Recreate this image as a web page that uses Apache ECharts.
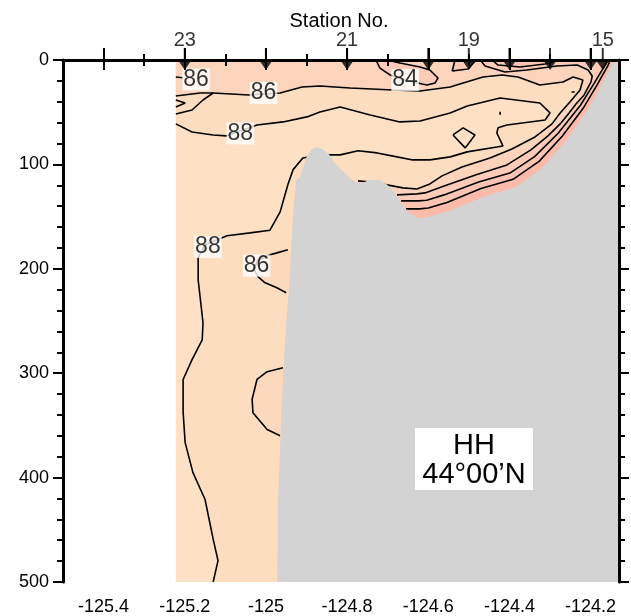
<!DOCTYPE html>
<html><head><meta charset="utf-8">
<script src="https://cdn.jsdelivr.net/npm/echarts@6/dist/echarts.min.js"></script>
<style>html,body{margin:0;padding:0;background:#fff}#c{width:631px;height:616px}</style>
</head><body><div id="c"></div>
<script>
// ---------------- data ----------------
const lonRange = [-125.5, -124.13];
const depthRange = [0, 500];
const majorLon = [-125.4, -125.2, -125, -124.8, -124.6, -124.4, -124.2];
const minorLon = [-125.3, -125.1, -124.9, -124.7, -124.5, -124.3];
const stationLon = [-125.2, -125.0, -124.8, -124.6, -124.5, -124.4, -124.3, -124.2, -124.17];
const stationNo  = [23, 22, 21, 20, 19, 18, 17, 16, 15];
const stationShown = [23, 21, 19, 15];
const dataWestLon = -125.222;

const bathymetry = [[-124.972,500],[-124.970,421],[-124.962,338],[-124.954,275],[-124.942,211],[-124.933,147],[-124.925,115],[-124.916,112],[-124.900,92.6],[-124.888,86],[-124.876,83.6],[-124.860,85.6],[-124.843,91],[-124.827,100.6],[-124.806,108.5],[-124.782,116.5],[-124.765,118],[-124.745,115],[-124.720,115],[-124.700,119.7],[-124.683,127.7],[-124.667,137],[-124.646,146.8],[-124.622,151.6],[-124.597,150],[-124.548,144.6],[-124.464,131],[-124.383,121.6],[-124.317,102.5],[-124.260,77],[-124.208,48],[-124.176,26],[-124.152,7],[-124.140,0],[-124.13,0]];

const c88 = [[-125.222,61.2],[-125.182,68.9],[-125.130,71.8],[-125.098,72.7],[-125.022,62.2],[-124.958,59.3],[-124.899,54.5],[-124.867,49.8],[-124.817,45],[-124.743,52.6],[-124.670,59.3],[-124.620,58.4],[-124.546,50.7],[-124.504,44],[-124.423,36.4],[-124.325,41.2],[-124.300,50.7],[-124.312,57.4],[-124.406,62.2],[-124.428,65],[-124.431,69.9],[-124.416,82.3],[-124.431,83.3],[-124.504,88],[-124.546,92.8],[-124.596,95.7],[-124.638,95.7],[-124.677,92.8],[-124.726,89],[-124.773,87],[-124.817,90.9],[-124.867,90.9],[-124.909,93.8],[-124.933,105],[-124.946,119.6],[-124.953,129],[-124.965,145.5],[-124.990,163],[-125.039,165.6],[-125.096,168.4],[-125.150,177],[-125.167,189.5],[-125.167,210.5],[-125.155,251.7],[-125.157,268],[-125.182,287],[-125.204,306],[-125.204,337.8],[-125.199,366.5],[-125.180,395],[-125.150,421],[-125.130,459],[-125.118,479.5],[-125.130,500]];
const c88Ring = [[-124.539,71.8],[-124.514,65],[-124.485,71.8],[-124.509,84.2],[-124.539,71.8]];
const spotA = [[-124.247,30.6],[-124.243,28.8],[-124.239,30.6],[-124.243,32.4],[-124.247,30.6]];
const spotB = [[-124.423,49.5],[-124.423,52.5]];
const c86Main = [[-125.222,34.5],[-125.162,31.6],[-125.130,31.6],[-125.042,33.5],[-124.965,31.6],[-124.911,25.8],[-124.867,24.9],[-124.793,26.8],[-124.687,28.7],[-124.620,29.7],[-124.546,25.8],[-124.514,22],[-124.465,16.3],[-124.418,14.4],[-124.379,16.3],[-124.325,23.9],[-124.268,21],[-124.243,16.3],[-124.219,19.1],[-124.226,28.7],[-124.251,40.2],[-124.275,50.7],[-124.295,61.2],[-124.337,73.7],[-124.394,85.2],[-124.448,93.8],[-124.517,102.4],[-124.566,111],[-124.596,118.7],[-124.628,123.5],[-124.662,122.5],[-124.702,119.6],[-124.743,116.8],[-124.773,115.8]];
const c86West1 = [[-125.222,16.3],[-125.205,17]];
const c86West2 = [[-125.222,38.3],[-125.199,41.2],[-125.222,45]];
const c86West3 = [[-125.222,51.7],[-125.182,47.9],[-125.155,38.3],[-125.130,31.6]];
const c86Lobe1 = [[-124.946,181.8],[-124.975,185],[-124.990,186.6],[-125.02,192],[-125.03,200],[-125.019,207.7],[-125.002,213.4],[-124.973,218.2],[-124.950,223]];
const c86Lobe2 = [[-124.958,294.8],[-124.997,298.6],[-125.022,306],[-125.034,325],[-125.032,337.8],[-124.997,354],[-124.965,360]];
const c84Lobe = [[-124.729,0],[-124.719,7.7],[-124.694,14.4],[-124.657,19.1],[-124.615,23],[-124.603,23.9],[-124.583,22],[-124.576,17.2],[-124.596,9.6],[-124.620,6.7],[-124.670,2.9],[-124.702,0]];
const c84Lobe19 = [[-124.534,0],[-124.541,10.5],[-124.502,8.6],[-124.482,0]];
const c84Slope = [[-124.472,0],[-124.460,5.7],[-124.411,11.5],[-124.357,9.6],[-124.283,5.7],[-124.233,4.8],[-124.206,9.6],[-124.196,15.3],[-124.199,21],[-124.216,33.5],[-124.236,42.1],[-124.253,50.7],[-124.275,61.2],[-124.305,72.7],[-124.347,86.1],[-124.406,100.5],[-124.482,110],[-124.566,121.5],[-124.608,127.3],[-124.628,128.2],[-124.677,129.2]];
const c82Lobe = [[-124.443,0],[-124.428,4.8],[-124.374,6.7],[-124.312,3.8],[-124.275,0]];
const c82Slope = [[-124.159,0],[-124.163,4.1],[-124.191,22.2],[-124.225,43.3],[-124.280,70.2],[-124.338,92.6],[-124.399,108.3],[-124.476,116.8],[-124.561,129.2],[-124.604,134.3],[-124.624,134.9],[-124.667,134.9]];
const c80Slope = [[-124.152,0],[-124.157,5.2],[-124.184,23.8],[-124.217,45.4],[-124.270,73.1],[-124.327,97.1],[-124.391,114.3],[-124.470,123],[-124.554,136.4],[-124.600,141.8],[-124.622,142.6],[-124.655,142.6]];

const labelText  = ['86', '86', '88', '84', '88', '86'];
const labelLon   = [-125.172, -125.006, -125.063, -124.657, -125.143, -125.023];
const labelDepth = [18.7, 31.6, 70.3, 19.1, 179, 197];

// ---------------- filled bands built from the contour arrays ----------------
const E = lonRange[1];
const fillPolys = [
  [[dataWestLon,0],[E,0],[E,500],[dataWestLon,500]],
  c88.concat([[dataWestLon,500]]),
  [[dataWestLon,0]].concat(c86Main, [[-124.76,160],[E,160],[E,0]]),
  c86Lobe1.concat([[-124.92,223],[-124.92,182]]),
  c86Lobe2.concat([[-124.94,360],[-124.94,295]]),
  c84Lobe,
  c84Lobe19,
  c84Slope.concat([[-124.69,160],[E,160],[E,0]]),
  c82Lobe,
  c82Slope.concat([[-124.675,160],[E,160],[E,0]]),
  c80Slope.concat([[-124.66,160],[E,160],[E,0]])
];
const fillColors = ['#FDDDC0','#FEE1C4','#FCD4BB','#FCD8BC','#FCD8BC','#FCCCB8','#FCCCB8','#FCCCB8','#FBC4B2','#FBC4B2','#FABBAA'];

const contours = [c88, c88Ring, spotA, spotB, c86Main, c86West1, c86West2, c86West3, c86Lobe1, c86Lobe2,
                  c84Lobe, c84Lobe19, c84Slope, c82Lobe, c82Slope, c80Slope];

// ---------------- chart ----------------
const FONT = 'Liberation Sans, Arial, Helvetica, sans-serif';
const chart = echarts.init(document.getElementById('c'), null, {renderer: 'canvas'});
const frame = {show: true, lineStyle: {color: '#000', width: 3}};
const tickStyle = {color: '#000', width: 2};
function xAx(pos, ticks, len, line, labels) {
  return {type: 'value', min: lonRange[0], max: lonRange[1], position: pos, z: 10,
    axisLine: line ? frame : {show: false},
    axisTick: {show: true, customValues: ticks, length: len, lineStyle: tickStyle},
    axisLabel: labels ? {show: true, customValues: ticks, fontSize: 18, color: '#000', fontFamily: FONT, margin: 16} : {show: false},
    splitLine: {show: false}};
}
function yAx(pos, labels) {
  return {type: 'value', min: depthRange[0], max: depthRange[1], interval: 100, inverse: true, position: pos, z: 10,
    axisLine: frame,
    axisTick: {show: true, length: 10, lineStyle: tickStyle},
    minorTick: {show: true, splitNumber: 5, length: 6, lineStyle: tickStyle},
    axisLabel: labels ? {show: true, fontSize: 18, color: '#000', fontFamily: FONT, margin: 14} : {show: false},
    splitLine: {show: false}, minorSplitLine: {show: false}};
}

const series = [];
series.push({type: 'custom', name: 'fill', coordinateSystem: 'cartesian2d', xAxisIndex: 0, yAxisIndex: 0, z: 1, silent: true,
  data: fillPolys.map(p => p[0]),
  renderItem: (params, api) => ({type: 'polygon', shape: {points: fillPolys[params.dataIndex].map(p => api.coord(p))},
    style: {fill: fillColors[params.dataIndex]}})
});
contours.forEach(c => series.push({type: 'line', data: c, symbol: 'none', z: 3, silent: true,
  lineStyle: {color: '#000', width: 1.6}}));
series.push({type: 'line', data: bathymetry, symbol: 'none', z: 4, silent: true,
  lineStyle: {width: 0, opacity: 0}, areaStyle: {color: '#D3D3D3', opacity: 1, origin: 'end'}});
series.push({type: 'scatter', data: labelText.map((t, i) => [labelLon[i], labelDepth[i], t]), symbolSize: 0, z: 6, silent: true,
  label: {show: true, position: 'inside', formatter: p => p.value[2], fontSize: 23, color: '#000', fontFamily: FONT,
    backgroundColor: '#fff', padding: [1, 1, 0, 1], lineHeight: 21}});
series.push({type: 'scatter', data: stationLon.map((l, i) => [l, 0, stationNo[i]]), clip: false, z: 12, silent: true,
  symbol: 'path://M6.5,0 L8.5,0 L8.5,11 L15,11 L7.5,22 L0,11 L6.5,11 Z', symbolSize: [15, 22], symbolOffset: [0, -1],
  itemStyle: {color: '#000'},
  label: {show: true, position: 'inside', offset: [0, -19], fontSize: 20, color: '#000', fontFamily: FONT,
    formatter: p => stationShown.includes(p.value[2]) ? String(p.value[2]) : ''}});

chart.setOption({
  animation: false,
  backgroundColor: '#fff',
  grid: {left: 63, top: 60, width: 556, height: 522.5, containLabel: false},
  xAxis: [xAx('bottom', majorLon, 10, true, true), xAx('bottom', minorLon, 6, false, false),
          xAx('top', majorLon, 12, true, false), xAx('top', minorLon, 6, false, false)],
  yAxis: [yAx('left', true), yAx('right', false)],
  series: series,
  graphic: [
    {type: 'text', x: 339, y: 11, z: 50, style: {text: 'Station No.', fontSize: 20, fontFamily: FONT, fill: '#000', align: 'center'}},
    {type: 'rect', z: 50, shape: {x: 415, y: 428, width: 118, height: 62}, style: {fill: '#fff'}},
    {type: 'text', z: 51, x: 474, y: 431, style: {text: 'HH\n44°00’N', fontSize: 29, lineHeight: 29, fontFamily: FONT, fill: '#000', align: 'center'}}
  ]
});
</script></body></html>
